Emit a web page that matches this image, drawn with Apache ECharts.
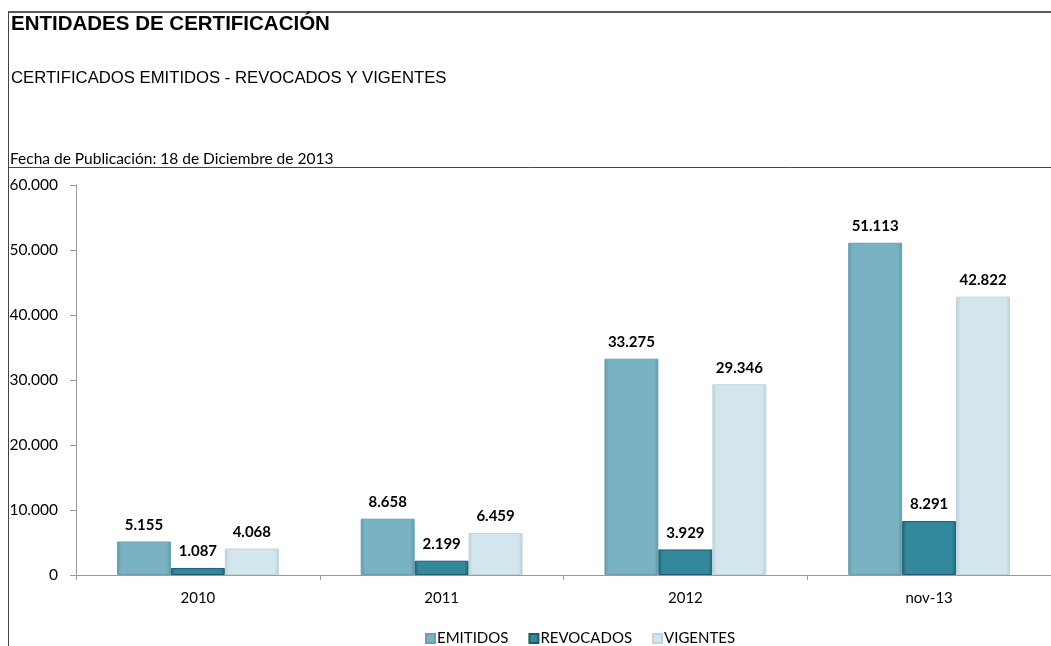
<!DOCTYPE html>
<html>
<head>
<meta charset="utf-8">
<script src="https://cdn.jsdelivr.net/npm/echarts@6/dist/echarts.min.js"></script>
<style>html,body{margin:0;padding:0;background:#fff;}#c{width:1051px;height:646px;}</style>
</head>
<body>
<div id="c"></div>
<script>
const categories = ['2010', '2011', '2012', 'nov-13'];
const emitidos = [5155, 8658, 33275, 51113];
const revocados = [1087, 2199, 3929, 8291];
const vigentes = [4068, 6459, 29346, 42822];
const yTicks = [0, 10000, 20000, 30000, 40000, 50000, 60000];

function fmt(v) {
  return String(Math.round(v)).replace(/\B(?=(\d{3})+(?!\d))/g, '.');
}
const F = 'Lato, "Open Sans", sans-serif';
const A = '"Liberation Sans", Arial, sans-serif';
function grad(edge, mid) {
  return new echarts.graphic.LinearGradient(0, 0, 1, 0, [
    {offset: 0, color: edge}, {offset: 0.08, color: mid}, {offset: 0.92, color: mid}, {offset: 1, color: edge}
  ]);
}
function mk(name, data, edge, mid, border) {
  return {
    name: name, type: 'bar', data: data, barGap: '0%', barCategoryGap: '33.6%',
    itemStyle: {color: grad(edge, mid), borderColor: border, borderWidth: 1},
    label: {show: true, position: 'top', distance: 9, color: '#000', fontFamily: F, fontWeight: 'bold', fontSize: 15,
      formatter: p => fmt(p.value)}
  };
}
const chart = echarts.init(document.getElementById('c'));
chart.setOption({
  animation: false,
  backgroundColor: '#fff',
  title: [
    {text: 'ENTIDADES DE CERTIFICACIÓN', left: 11, top: 14, padding: 0, textStyle: {fontFamily: A, fontWeight: 'bold', fontSize: 20.5, color: '#000'}},
    {text: 'CERTIFICADOS EMITIDOS - REVOCADOS Y VIGENTES', left: 11, top: 70, padding: 0, textStyle: {fontFamily: A, fontWeight: 'normal', fontSize: 16.7, color: '#000'}},
    {text: 'Fecha de Publicación: 18 de Diciembre de 2013', left: 10, top: 151, padding: 0, textStyle: {fontFamily: F, fontWeight: 'normal', fontSize: 15.5, color: '#000'}}
  ],
  graphic: [
    {type: 'line', shape: {x1: 8, y1: 12, x2: 1051, y2: 12}, style: {stroke: '#222', lineWidth: 1.5}},
    {type: 'line', shape: {x1: 8.5, y1: 12, x2: 8.5, y2: 646}, style: {stroke: '#444', lineWidth: 1}},
    {type: 'line', shape: {x1: 8, y1: 167.5, x2: 1051, y2: 167.5}, style: {stroke: '#444', lineWidth: 1}}
  ],
  legend: {
    top: 626, left: 420, itemWidth: 9, itemHeight: 9, itemGap: 20,
    icon: 'rect',
    textStyle: {fontFamily: F, fontSize: 15, color: '#000', padding: [0, 0, 0, -3]},
    data: ['EMITIDOS', 'REVOCADOS', 'VIGENTES']
  },
  grid: {left: 76, right: 0, top: 185, bottom: 71, containLabel: false},
  xAxis: {
    type: 'category', data: categories,
    axisLine: {lineStyle: {color: '#9a9a9a'}},
    axisTick: {show: true, alignWithLabel: false, length: 5, lineStyle: {color: '#9a9a9a'}},
    axisLabel: {color: '#000', fontFamily: F, fontSize: 15, margin: 16}
  },
  yAxis: {
    type: 'value', min: 0, max: 60000, interval: 10000,
    axisLine: {show: true, lineStyle: {color: '#9a9a9a'}},
    axisTick: {show: true, length: 6, lineStyle: {color: '#9a9a9a'}},
    splitLine: {show: false},
    axisLabel: {color: '#000', fontFamily: F, fontSize: 15.5, margin: 18,
      formatter: v => yTicks.includes(v) ? fmt(v) : ''}
  },
  series: [
    mk('EMITIDOS', emitidos, '#5e97a8', '#79B3C3', '#6aa0b0'),
    mk('REVOCADOS', revocados, '#1f6677', '#34889D', '#1d5a69'),
    mk('VIGENTES', vigentes, '#b6cfd8', '#D3E6EE', '#c0d6de')
  ]
});
</script>
</body>
</html>
